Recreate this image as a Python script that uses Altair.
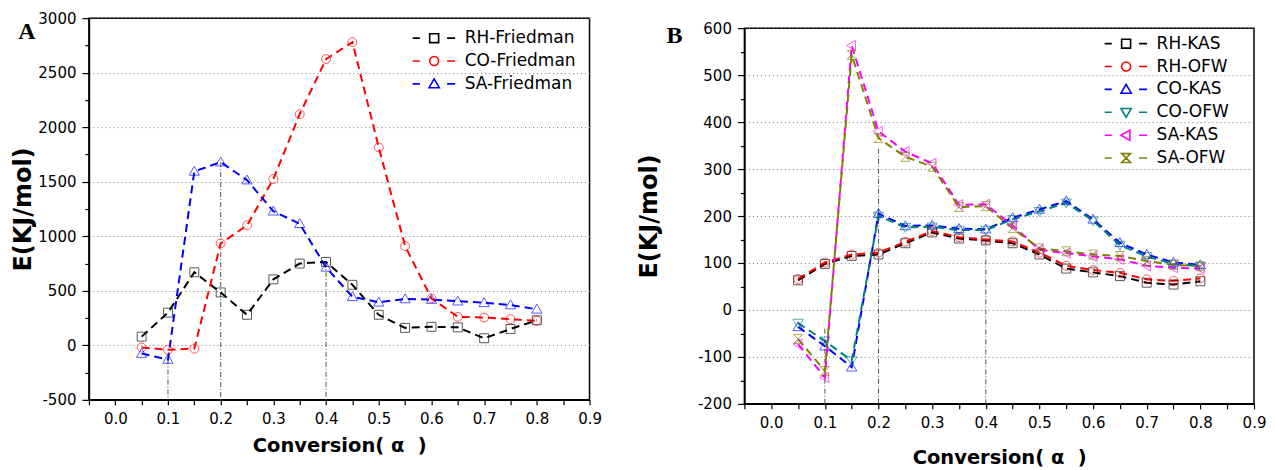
import altair as alt
import pandas as pd

# ---------------- data ----------------
conversion = [0.05, 0.10, 0.15, 0.20, 0.25, 0.30, 0.35, 0.40,
              0.45, 0.50, 0.55, 0.60, 0.65, 0.70, 0.75, 0.80]

a_series = ["RH-Friedman", "CO-Friedman", "SA-Friedman"]
a_rh = [80, 300, 670, 485, 280, 605, 750, 765, 555, 280, 160, 170, 165, 65, 150, 230]
a_co = [-20, -40, -30, 935, 1100, 1525, 2120, 2625, 2780, 1815, 910, 430, 262, 255, 240, 225]
a_sa = [-75, -130, 1595, 1680, 1515, 1230, 1115, 715, 445, 395, 425, 420, 405, 390, 370, 330]
a_colors = ["#000000", "#ff0000", "#0000ff"]

b_series = ["RH-KAS", "RH-OFW", "CO-KAS", "CO-OFW", "SA-KAS", "SA-OFW"]
b_rh_kas = [63, 98, 115, 118, 142, 165, 152, 148, 142, 118, 88, 80, 72, 58, 54, 61]
b_rh_ofw = [66, 101, 118, 122, 145, 168, 155, 150, 146, 122, 94, 85, 79, 65, 62, 67]
b_co_kas = [-36, -77, -122, 205, 179, 180, 173, 172, 196, 214, 232, 193, 143, 118, 101, 96]
b_co_ofw = [-28, -66, -108, 200, 176, 177, 170, 170, 193, 210, 228, 190, 138, 114, 98, 93]
b_sa_kas = [-73, -144, 563, 380, 337, 312, 224, 225, 180, 128, 121, 114, 108, 94, 90, 88]
b_sa_ofw = [-62, -130, 543, 366, 326, 305, 219, 221, 174, 131, 125, 118, 115, 104, 96, 93]
b_colors = ["#000000", "#ff0000", "#0000ff", "#008080", "#ff00ff", "#808000"]

a_drop_x = [0.1, 0.2, 0.4]
a_drop_top = [-130, 1680, 765]
a_drop_base = [-500, -500, -500]
b_drop_x = [0.1, 0.2, 0.4]
b_drop_top = [-40, 343, 150]
b_drop_base = [-200, -200, -200]

x_ticks = [round(-0.05 + 0.05 * i, 2) for i in range(20)]

# ---------------- marker shapes ----------------
SQUARE = "M-1,-1H1V1H-1Z"
CIRCLE = "M1,0A1,1,0,1,1,-1,0A1,1,0,1,1,1,0Z"
TRI_UP = "M0,-1.15L1.15,0.85H-1.15Z"
TRI_DOWN = "M0,1.15L1.15,-0.85H-1.15Z"
TRI_LEFT = "M-1.15,0L0.85,-1.15V1.15Z"
HOURGLASS = "M-1,-1H1L-1,1H1Z"
DASHES = "M-4.8,0H-3.2M2.9,0H4.7"

a_shapes = [SQUARE, CIRCLE, TRI_UP]
b_shapes = [SQUARE, CIRCLE, TRI_UP, TRI_DOWN, TRI_LEFT, HOURGLASS]

X_TITLE = "Conversion(\u00a0α\u00a0\u00a0)"


def long_df(names, arrays):
    rows = []
    for n, arr in zip(names, arrays):
        for xv, yv in zip(conversion, arr):
            rows.append({"conversion": xv, "E": yv, "series": n})
    return pd.DataFrame(rows)


def panel(series, arrays, colors, shapes, ydom, ymajor, yminor, w, h,
          drop_x, drop_top, drop_base, letter, letter_xy, leg_xy,
          ytitle_pad, xtitle_pad):
    df = long_df(series, arrays)
    drops = pd.DataFrame({"conversion": drop_x, "E": drop_top, "E2": drop_base})
    y_ticks = list(range(ydom[0], ydom[1] + 1, yminor))
    major_test = "datum.value % " + str(ymajor) + " === 0"

    x_enc = alt.X(
        "conversion:Q",
        scale=alt.Scale(domain=[-0.05, 0.9], nice=False, zero=False),
        axis=alt.Axis(
            values=x_ticks,
            labelExpr="abs(round(datum.value*100)) % 10 == 0 ? format(datum.value, '.1f') : ''",
            title=X_TITLE, titleFontSize=19.5, titlePadding=xtitle_pad,
            labelPadding=7, tickSize=5, grid=False, labelOverlap=False, labelFlush=False,
        ),
    )
    y_enc = alt.Y(
        "E:Q",
        scale=alt.Scale(domain=ydom, nice=False, zero=False),
        axis=alt.Axis(
            values=y_ticks,
            labelExpr=major_test + " ? '' + datum.value : ''",
            title="E(KJ/mol)", titleFontSize=24, titlePadding=ytitle_pad,
            labelPadding=6,
            tickSize={"condition": {"test": major_test, "value": 7}, "value": 4},
            grid=True,
            gridOpacity={"condition": {"test": major_test, "value": 1}, "value": 0},
            gridDash=[1, 3], gridColor="#777777", gridWidth=1,
            labelOverlap=False, labelFlush=False,
        ),
    )
    cscale = alt.Scale(domain=series, range=colors)
    lscale = alt.Scale(domain=series, range=[DASHES + s for s in shapes])

    legend = alt.Legend(
        title=None, orient="none", legendX=leg_xy[0], legendY=leg_xy[1],
        labelFont="DejaVu Sans", labelFontSize=17, labelColor="black",
        symbolSize=80, symbolStrokeWidth=1.6, symbolOpacity=1,
        symbolFillColor="transparent",
        labelOffset=22, rowPadding=4.9, padding=0,
    )
    color_enc = alt.Color("series:N", scale=cscale, legend=legend)

    drop_layer = alt.Chart(drops).mark_rule(
        color="#555555", strokeWidth=1, strokeDash=[5, 2, 1, 2]
    ).encode(x=x_enc, y=y_enc, y2="E2:Q")

    line_layer = alt.Chart(df).mark_line(strokeDash=[8, 5], strokeWidth=2).encode(
        x=x_enc, y=y_enc, color=color_enc, detail="series:N",
    )

    point_layers = []
    for s, shp in zip(series, shapes):
        point_layers.append(
            alt.Chart(df).transform_filter(alt.datum.series == s).mark_point(
                filled=False, size=80, strokeWidth=1, opacity=0.65, shape=shp
            ).encode(x=x_enc, y=y_enc, color=color_enc)
        )

    legend_layer = alt.Chart(df).mark_point(
        filled=False, size=80, strokeWidth=1.6, opacity=0
    ).encode(
        x=x_enc, y=y_enc, color=color_enc,
        shape=alt.Shape("series:N", scale=lscale, legend=legend),
    )

    letter_layer = alt.Chart(pd.DataFrame({"letter": [letter]})).mark_text(
        font="Liberation Serif", fontWeight="bold", fontSize=24,
        align="center", baseline="middle", color="black",
    ).encode(text="letter:N", x=alt.value(letter_xy[0]), y=alt.value(letter_xy[1]))

    layers = [drop_layer, line_layer] + point_layers + [legend_layer, letter_layer]
    return alt.layer(*layers).properties(width=w, height=h)


panel_a = panel(
    a_series, [a_rh, a_co, a_sa], a_colors, a_shapes,
    [-500, 3000], 500, 250, 501, 382,
    a_drop_x, a_drop_top, a_drop_base,
    "A", (-62, 14), (337, 11.5), 2, 10,
)

panel_b = panel(
    b_series, [b_rh_kas, b_rh_ofw, b_co_kas, b_co_ofw, b_sa_kas, b_sa_ofw],
    b_colors, b_shapes,
    [-200, 600], 100, 50, 510, 376,
    b_drop_x, b_drop_top, b_drop_base,
    "B", (-70, 8), (373.5, 17), 36, 18,
)

# invisible one-pixel strip that lowers panel B like in the original figure
spacer = alt.Chart(pd.DataFrame({"s": [""]})).mark_text(opacity=0, fontSize=1).encode(
    text="s:N", x=alt.value(0), y=alt.value(0)
).properties(width=510, height=1, view=alt.ViewBackground(stroke="transparent"))

chart = alt.hconcat(
    panel_a, alt.vconcat(spacer, panel_b, spacing=0), spacing=34
).resolve_scale(
    color="independent", shape="independent"
).resolve_legend(color="independent", shape="independent").properties(
    padding={"left": 3, "top": 2, "right": 0, "bottom": 0}
).configure_axis(
    labelFont="DejaVu Sans", labelFontSize=15, labelColor="black",
    titleFont="DejaVu Sans", titleFontWeight="bold", titleColor="black",
    domainColor="black", domainWidth=1.5, tickColor="black", tickWidth=1.2,
).configure_view(stroke="black", strokeWidth=1.5)

chart.save("out.html", embed_options={"renderer": "svg", "actions": False})
